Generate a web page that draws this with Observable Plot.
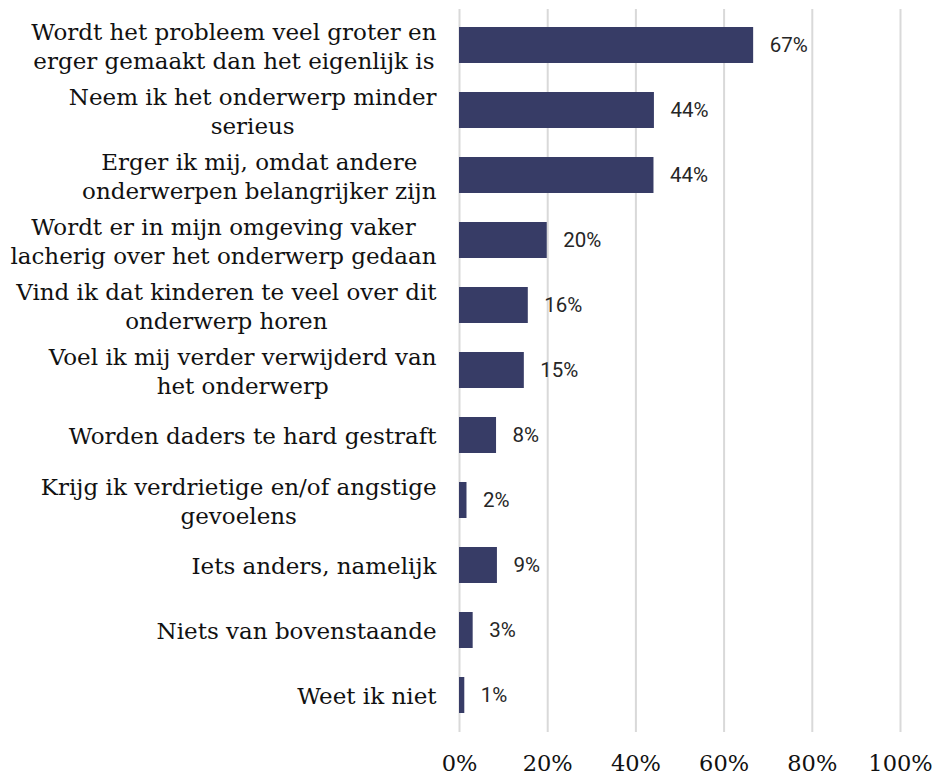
<!DOCTYPE html>
<html>
<head>
<meta charset="utf-8">
<script src="https://cdn.jsdelivr.net/npm/d3@7"></script>
<script src="https://cdn.jsdelivr.net/npm/@observablehq/plot@0.6"></script>
<style>
  html, body { margin: 0; padding: 0; background: #fff; }
  svg { display: block; }
</style>
</head>
<body>
<script>
const categories = [
  "Wordt het probleem veel groter en\nerger gemaakt dan het eigenlijk is",
  "Neem ik het onderwerp minder\nserieus",
  "Erger ik mij, omdat andere\nonderwerpen belangrijker zijn",
  "Wordt er in mijn omgeving vaker\nlacherig over het onderwerp gedaan",
  "Vind ik dat kinderen te veel over dit\nonderwerp horen",
  "Voel ik mij verder verwijderd van\nhet onderwerp",
  "Worden daders te hard gestraft",
  "Krijg ik verdrietige en/of angstige\ngevoelens",
  "Iets anders, namelijk",
  "Niets van bovenstaande",
  "Weet ik niet"
];
const values = [66.7, 44.2, 44.1, 19.9, 15.6, 14.7, 8.4, 1.7, 8.6, 3.1, 1.2];
const valueLabels = ["67%", "44%", "44%", "20%", "16%", "15%", "8%", "2%", "9%", "3%", "1%"];
const xTicks = [0, 20, 40, 60, 80, 100];

const data = categories.map((c, i) => ({cat: c, value: values[i], label: valueLabels[i]}));

const serif = "'DejaVu Serif', serif";
const sans = "Roboto, 'Liberation Sans', sans-serif";

const chart = Plot.plot({
  width: 932,
  height: 776,
  marginLeft: 459,
  marginRight: 32,
  marginTop: 9,
  marginBottom: 44,
  style: {background: "#fff"},
  x: {domain: [0, 100]},
  y: {domain: categories, paddingInner: 0.445, paddingOuter: 0.2225},
  marks: [
    Plot.ruleX(xTicks, {stroke: "#d9d9d9", strokeWidth: 2}),
    Plot.barX(data, {x: "value", y: "cat", fill: "#373c66"}),
    Plot.text(data, {x: "value", y: "cat", text: "label", textAnchor: "start", dx: 16,
      fontFamily: sans, fontSize: 20.5, fontWeight: 400, fill: "#262626"}),
    Plot.axisX({ticks: xTicks, tickFormat: d => d + "%", tickSize: 0, tickPadding: 23,
      fontFamily: serif, fontSize: 22.5, fill: "#111", label: null}),
    Plot.axisY({tickSize: 0, tickPadding: 23, fontFamily: serif, fontSize: 23,
      lineHeight: 1.22, fill: "#111", label: null})
  ]
});

document.body.append(chart);

// Center the lines of each wrapped label on its widest line
chart.querySelectorAll('g[aria-label="y-axis tick label"] text').forEach(t => {
  const spans = t.querySelectorAll("tspan");
  if (spans.length < 2) return;
  const w = Math.max(...[...spans].map(s => s.getComputedTextLength()));
  t.setAttribute("text-anchor", "middle");
  spans.forEach(s => s.setAttribute("x", -w / 2));
});
</script>
</body>
</html>
